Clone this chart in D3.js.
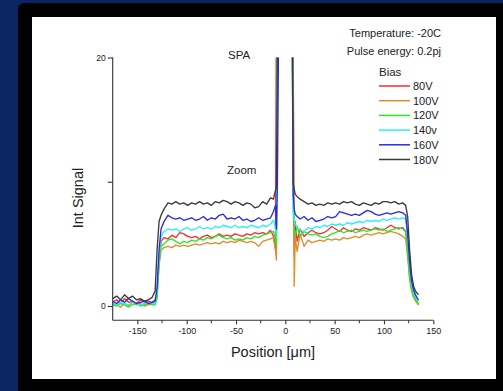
<!DOCTYPE html>
<html>
<head>
<meta charset="utf-8">
<script src="https://cdn.jsdelivr.net/npm/d3@7"></script>
<style>
  html, body { margin: 0; padding: 0; background: #0a2560; }
  svg { display: block; }
  .tick-lbl { font-family: "Liberation Sans", Arial, sans-serif; fill: #222; }
  .note { font-family: "Liberation Sans", Arial, sans-serif; fill: #222; }
</style>
</head>
<body>
<svg id="chart" width="503" height="391"></svg>
<script>
// Position [um], shared by every bias series
const POS = [
  -175, -171, -167, -163, -159, -155, -151, -147, -143, -139, -135, -132,
  -130, -128, -126, -123, -119, -115, -111, -107, -103, -99, -95, -91,
  -87, -83, -79, -75, -71, -67, -63, -59, -55, -51, -47, -43,
  -39, -35, -31, -27, -23, -19, -15, -12, -10, -9, -8, -6,
  0, 6, 7, 8, 9, 10, 12, 15, 19, 23, 27, 31,
  35, 39, 43, 47, 51, 55, 59, 63, 67, 71, 75, 79,
  83, 87, 91, 95, 99, 103, 107, 111, 115, 119, 122, 124,
  126, 128, 130, 132, 134, 135
];

const BIAS = ['80V', '100V', '120V', '140v', '160V', '180V'];
const COLORS = ['#ff2a2a', '#e08b2c', '#2ee62e', '#2af0f0', '#2a2ae6', '#3a3a3a'];

const V80 = [
  0.3, 0.5, 0.2, 0.6, 0.3, 0.4, 0.2, 0.5, 0.3, 0.4, 0.3, 0.5,
  1.0, 3.8, 5.2, 5.5, 5.4, 5.7, 5.5, 5.9, 5.8, 5.6, 5.5, 5.6,
  5.4, 5.6, 5.7, 5.5, 5.6, 5.8, 5.6, 5.7, 5.6, 5.8, 5.7, 5.6,
  5.8, 5.7, 5.9, 5.8, 5.9, 5.8, 6.1, 5.6, 4.6, 25, 30, 35,
  45, 35, 30, 20, 4.0, 6.8, 5.2, 6.2, 5.6, 5.9, 6.1, 5.9,
  5.8, 5.9, 6.1, 6.4, 6.2, 6.0, 6.3, 6.1, 6.0, 6.2, 6.1, 6.3,
  6.2, 6.1, 6.3, 6.2, 6.1, 6.3, 6.5, 6.3, 6.2, 6.3, 6.0, 4.5,
  2.6, 1.5, 0.9, 0.5, 0.25, 0.1
];
const V100 = [
  0.2, 0.1, -0.1, 0.2, 0.0, 0.3, 0.1, 0.2, 0.0, 0.1, 0.2, 0.3,
  0.8, 3.2, 4.5, 4.7, 4.8, 4.7, 4.9, 4.8, 4.9, 4.8, 4.9, 5.0,
  4.9, 5.0, 5.1, 5.0, 5.1, 5.0, 5.2, 5.1, 5.2, 5.1, 5.3, 5.2,
  5.1, 5.2, 5.1, 4.8, 5.2, 5.3, 5.4, 5.5, 4.5, 3.7, 25, 32,
  45, 35, 30, 18, 1.6, 5.5, 4.4, 5.8, 4.8, 5.3, 5.1, 5.2,
  5.3, 5.2, 5.4, 5.3, 5.4, 5.3, 5.5, 5.4, 5.5, 5.6, 5.5, 5.7,
  5.8, 5.7, 5.8, 5.9, 5.8, 5.9, 6.0, 5.9, 5.8, 5.6, 5.4, 4.0,
  2.2, 1.2, 0.7, 0.4, 0.2, 0.1
];
const V120 = [
  0.1, 0.0, 0.2, 0.1, -0.1, 0.1, 0.2, 0.0, 0.1, 0.2, 0.1, 0.1,
  0.6, 3.5, 4.8, 5.0, 5.3, 5.4, 5.2, 5.0, 5.2, 5.1, 5.3, 5.2,
  5.4, 5.3, 5.5, 5.4, 5.6, 5.7, 5.5, 5.4, 5.5, 5.3, 5.4, 5.3,
  5.5, 5.4, 5.6, 5.5, 5.7, 5.8, 5.9, 6.0, 5.4, 4.8, 22, 30,
  45, 35, 22, 7.5, 6.2, 5.6, 6.4, 5.6, 6.0, 5.8, 5.7, 5.8,
  5.6, 5.5, 5.6, 5.8, 5.9, 6.1, 5.9, 6.0, 6.1, 5.9, 6.0, 6.1,
  6.0, 6.1, 6.2, 6.1, 6.2, 6.0, 6.1, 6.2, 6.3, 6.2, 6.0, 4.2,
  2.3, 1.3, 0.8, 0.5, 0.3, 0.2
];
const V140 = [
  0.2, 0.1, 0.3, 0.2, 0.1, 0.3, 0.2, 0.1, 0.2, 0.3, 0.2, 0.3,
  1.2, 4.0, 5.6, 6.0, 6.2, 6.1, 6.2, 6.0, 6.2, 6.3, 6.1, 6.2,
  6.4, 6.2, 6.3, 6.2, 6.4, 6.3, 6.5, 6.4, 6.3, 6.5, 6.3, 6.4,
  6.3, 6.5, 6.4, 6.3, 6.5, 6.4, 6.6, 6.9, 6.3, 5.5, 20, 30,
  45, 35, 22, 8.0, 7.0, 6.6, 6.3, 6.1, 6.0, 6.3, 6.2, 6.4,
  6.3, 6.5, 6.4, 6.6, 6.5, 6.6, 6.5, 6.7, 6.6, 6.7, 6.8, 6.7,
  6.9, 6.8, 6.9, 6.8, 7.0, 6.9, 7.0, 7.1, 7.0, 7.1, 7.0, 5.5,
  3.2, 1.8, 1.1, 0.7, 0.5, 0.4
];
const V160 = [
  0.4, 0.2, 0.5, 0.3, 0.6, 0.4, 0.2, 0.3, 0.4, 0.2, 0.3, 0.4,
  1.5, 4.5, 6.2, 6.8, 7.3, 7.1, 7.0, 7.1, 6.9, 7.0, 7.1, 6.9,
  7.0, 7.2, 6.9, 7.1, 7.0, 7.3, 7.4, 7.0, 7.1, 7.0, 7.2, 6.9,
  7.0, 6.8, 6.9, 7.1, 6.9, 7.0, 7.1, 7.6, 8.1, 6.2, 10, 30,
  45, 35, 22, 9.0, 7.8, 7.4, 7.2, 7.0, 7.2, 6.9, 7.1, 6.8,
  6.9, 7.0, 7.2, 7.1, 7.2, 7.6, 7.5, 7.4, 7.3, 7.4, 7.3, 7.5,
  7.7, 7.6, 7.4, 7.3, 7.4, 7.5, 7.4, 7.5, 7.6, 7.5, 7.3, 5.8,
  3.5, 2.0, 1.3, 0.9, 0.6, 0.5
];
const V180 = [
  0.6, 0.8, 0.5, 0.9, 0.6, 0.8, 0.5, 0.6, 0.4, 0.5, 0.7, 1.2,
  4.5, 6.8, 7.3, 7.8, 8.3, 8.2, 8.4, 8.2, 8.3, 8.1, 8.3, 8.2,
  8.4, 8.2, 8.3, 8.1, 8.4, 8.3, 8.5, 8.4, 8.2, 8.4, 8.3, 8.1,
  8.3, 8.2, 7.9, 8.0, 8.4, 8.2, 8.7, 8.6, 9.3, 9.6, 22, 35,
  45, 35, 25, 9.8, 9.4, 9.0, 8.8, 8.6, 8.4, 8.2, 8.3, 8.1,
  8.2, 8.1, 8.3, 8.2, 8.3, 8.2, 8.4, 8.3, 8.4, 8.2, 8.1, 8.3,
  8.2, 8.1, 8.3, 8.2, 8.4, 8.4, 8.3, 8.4, 8.2, 8.3, 8.1, 7.2,
  4.5, 2.5, 1.6, 1.2, 1.0, 0.9
];

const SERIES = [V80, V100, V120, V140, V160, V180];

const X_TICKS = [-150, -100, -50, 0, 50, 100, 150];
const X_MINOR = [-125, -75, -25, 25, 75, 125];
const Y_TICKS = [0, 10, 20];
const Y_LABELS = ['0', '', '20'];

const svg = d3.select('#chart');
const FONT = '"Liberation Sans", Arial, sans-serif';

// slide background + black frame + white panel
svg.append('rect').attr('width', 503).attr('height', 391).attr('fill', '#0a2560');
svg.append('rect').attr('x', 18).attr('y', 3).attr('width', 500).attr('height', 400)
  .attr('rx', 6).attr('fill', '#000');
svg.append('rect').attr('x', 32).attr('y', 17).attr('width', 464).attr('height', 362)
  .attr('fill', '#fff');

const x = d3.scaleLinear().domain([-175, 150]).range([112.7, 433.3]);
const y = d3.scaleLinear().domain([-1.15, 20]).range([320.3, 57.5]);

svg.append('defs').append('clipPath').attr('id', 'plot-clip')
  .append('rect')
  .attr('x', x(-175)).attr('y', y(20))
  .attr('width', x(150) - x(-175)).attr('height', y(-1.15) - y(20));

// data lines
const line = d3.line().x((d, i) => x(POS[i])).y(d => y(d));
const gLines = svg.append('g').attr('clip-path', 'url(#plot-clip)');
SERIES.forEach((s, k) => {
  gLines.append('path').datum(s)
    .attr('d', line)
    .attr('fill', 'none')
    .attr('stroke', COLORS[k])
    .attr('stroke-width', 1.35)
    .attr('stroke-linejoin', 'round');
});

// x axis
const xAxis = d3.axisBottom(x).tickValues(X_TICKS).tickSize(4).tickPadding(3)
  .tickFormat(d => String(d));
const gx = svg.append('g').attr('transform', `translate(0,${y(-1.15)})`).call(xAxis);
gx.select('.domain').attr('d', `M${x(-175)},0H${x(150)}`);
gx.selectAll('text').attr('class', 'tick-lbl').style('font-size', '9px').attr('fill', '#222');
gx.selectAll('line, path').attr('stroke', '#333').attr('stroke-width', 1.1);
gx.selectAll('.minor').data(X_MINOR).enter().append('line')
  .attr('class', 'minor')
  .attr('x1', d => x(d)).attr('x2', d => x(d))
  .attr('y1', 0).attr('y2', 3)
  .attr('stroke', '#333').attr('stroke-width', 1);

// y axis
const yAxis = d3.axisLeft(y).tickValues(Y_TICKS).tickSize(5).tickPadding(2)
  .tickFormat((d, i) => Y_LABELS[i]);
const gy = svg.append('g').attr('transform', `translate(${x(-175)},0)`).call(yAxis);
gy.select('.domain').attr('d', `M0,${y(20)}V${y(-1.15)}`);
gy.selectAll('text').attr('class', 'tick-lbl').style('font-size', '8.5px').attr('fill', '#222');
gy.selectAll('line, path').attr('stroke', '#333').attr('stroke-width', 1.1);
svg.selectAll('.domain, .tick text').attr('font-family', FONT);

// axis titles
svg.append('text').attr('class', 'note')
  .attr('x', 273).attr('y', 357).attr('text-anchor', 'middle')
  .style('font-size', '14.5px').text('Position [\u03bcm]');
svg.append('text').attr('class', 'note')
  .attr('transform', 'translate(83,198) rotate(-90)').attr('text-anchor', 'middle')
  .style('font-size', '14.5px').text('Int Signal');

// annotations
svg.append('text').attr('class', 'note').attr('x', 441).attr('y', 36.5)
  .attr('text-anchor', 'end').style('font-size', '11px').text('Temperature: -20C');
svg.append('text').attr('class', 'note').attr('x', 441).attr('y', 54.5)
  .attr('text-anchor', 'end').style('font-size', '11px').text('Pulse energy: 0.2pj');
svg.append('text').attr('class', 'note').attr('x', 228).attr('y', 58.5)
  .style('font-size', '11.5px').text('SPA');
svg.append('text').attr('class', 'note').attr('x', 227).attr('y', 174)
  .style('font-size', '11.5px').text('Zoom');

// legend
const gLeg = svg.append('g').attr('transform', 'translate(379,0)');
gLeg.append('text').attr('class', 'note').attr('x', 0).attr('y', 76)
  .style('font-size', '11.5px').text('Bias');
BIAS.forEach((b, k) => {
  const ly = 86 + k * 14.7;
  gLeg.append('line').attr('x1', 0).attr('x2', 31).attr('y1', ly).attr('y2', ly)
    .attr('stroke', COLORS[k]).attr('stroke-width', 1.5);
  gLeg.append('text').attr('class', 'note').attr('x', 34).attr('y', ly + 4)
    .style('font-size', '11px').text(b);
});
</script>
</body>
</html>
